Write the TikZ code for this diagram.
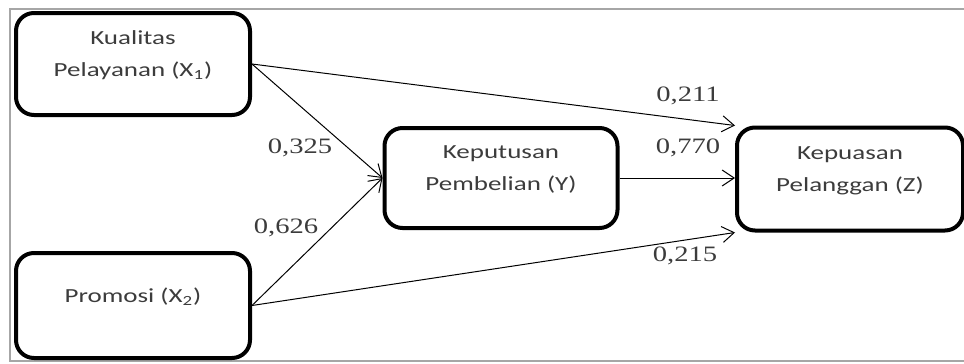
\documentclass[tikz,border=0pt]{standalone}
\usepackage{fontspec}
\setmainfont{Liberation Serif}
\newfontfamily\boxfont[FakeStretch=1.35]{Carlito}
\newfontfamily\coeffont[FakeStretch=1.3]{Liberation Serif}
\usetikzlibrary{arrows.meta, positioning}
\usepackage{xcolor}
\definecolor{txtgray}{HTML}{3C3C3C}

\begin{document}
\begin{tikzpicture}[
    x=0.5pt, y=-0.5pt,
    block/.style={rectangle, draw, line width=2pt, rounded corners=9pt, align=center,
      text=txtgray, text depth=10pt, font=\boxfont\fontsize{10}{16}\selectfont},
    coef/.style={text=txtgray, inner sep=1pt, font=\coeffont\fontsize{11}{13}\selectfont},
    arrow/.style={draw, line width=0.5pt, -{Straight Barb[length=6pt, width=8pt]}}
]
\useasboundingbox (0,0) rectangle (964,364);

% frame
\draw[gray!70, line width=0.8pt] (964,9) -- (10,9) -- (10,361) -- (964,361);

% variables
\node[block, minimum width=117pt, minimum height=51pt] (x1) at (133,64) {Kualitas\\Pelayanan (X\textsubscript{1})};
\node[block, minimum width=117pt, minimum height=52.5pt] (x2) at (133,305.5) {Promosi (X\textsubscript{2})};
\node[block, minimum width=116.5pt, minimum height=50pt] (y) at (501,178) {Keputusan\\Pembelian (Y)};
\node[block, minimum width=113pt, minimum height=51.5pt] (z) at (850,179) {Kepuasan\\Pelanggan (Z)};

% paths
\draw[arrow] (x1.east) -- (y.west);
\draw[arrow] (x2.east) -- (y.west);
\draw[arrow] (x1.east) -- (z.north west);
\draw[arrow] (x2.east) -- (z.south west);
\draw[arrow] (y.east) -- (z.west |- y.east);

% coefficients
\node[coef] (c325) at (300,148) {0,325};
\node[coef] (c626) at (286,228) {0,626};
\node[coef] (c211) at (688,96) {0,211};
\node[coef] (c770) at (688,148) {0,770};
\node[coef] (c215) at (685,256) {0,215};

\end{tikzpicture}
\end{document}
